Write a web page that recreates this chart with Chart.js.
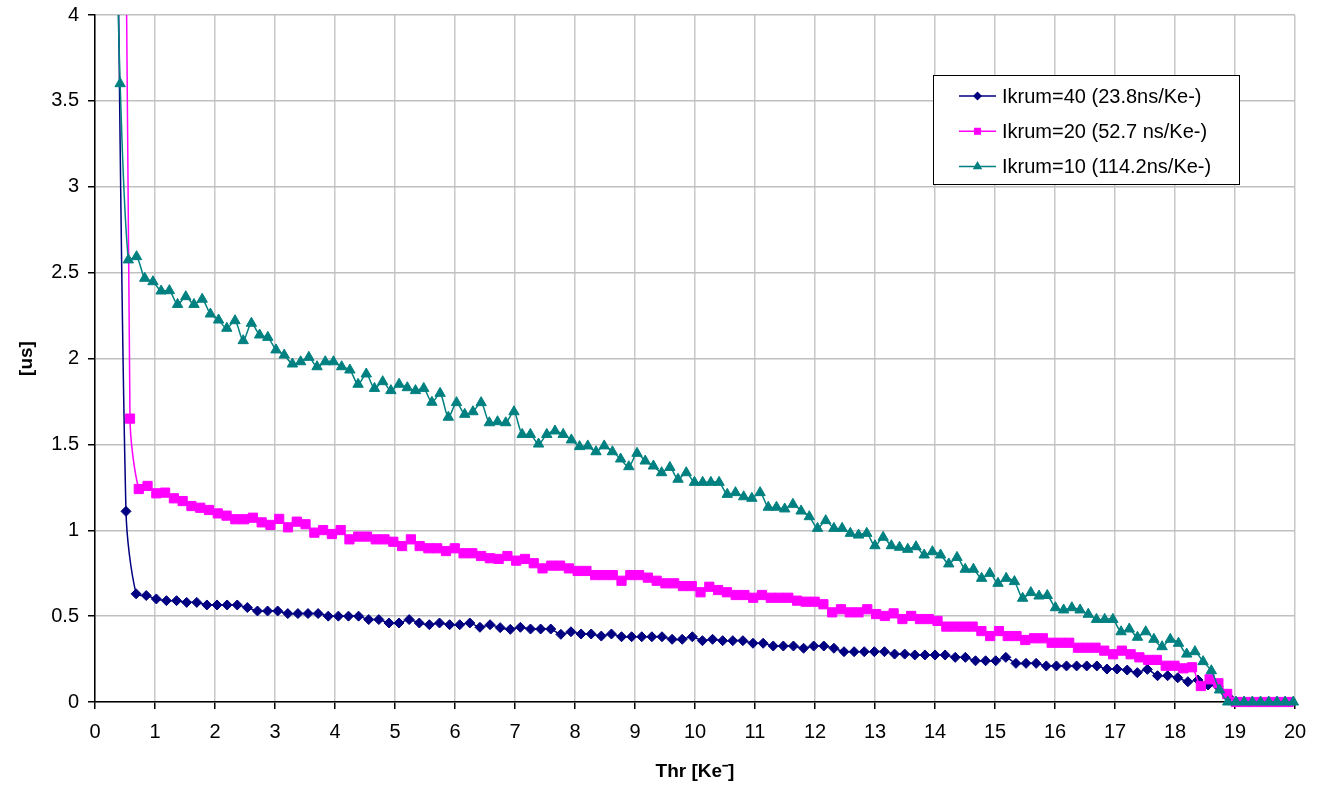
<!DOCTYPE html>
<html>
<head>
<meta charset="utf-8">
<title>Ikrum threshold scan</title>
<script src="https://cdn.jsdelivr.net/npm/chart.js@4.4.1/dist/chart.umd.min.js"></script>
<style>
  html, body { margin: 0; padding: 0; background: #fff; }
  #wrap { width: 1325px; height: 786px; }
</style>
</head>
<body>
<div id="wrap"><canvas id="scan" width="1325" height="786"></canvas></div>
<script>
'use strict';

// Threshold scan grid (Ke-) for each Ikrum setting: first step and step size
const thrStart40 = 0.348, thrStep40 = 0.16855;
const thrStart20 = 0.437, thrStep20 = 0.14629;
const thrStart10 = 0.2823, thrStep10 = 0.13674;

const seriesLabels = ['Ikrum=40 (23.8ns/Ke-)', 'Ikrum=20 (52.7 ns/Ke-)', 'Ikrum=10 (114.2ns/Ke-)'];

// Time over threshold [us] at each threshold step
const ikrum40 = [
  5.45, 1.11, 0.63, 0.62, 0.60, 0.59, 0.59, 0.58, 0.58, 0.565, 0.565, 0.565, 0.565, 0.55, 0.53, 0.53,
  0.53, 0.515, 0.515, 0.515, 0.515, 0.50, 0.50, 0.50, 0.50, 0.48, 0.48, 0.46, 0.46, 0.48, 0.46, 0.45,
  0.46, 0.45, 0.45, 0.46, 0.435, 0.45,
  0.433, 0.423, 0.435, 0.425, 0.425, 0.425, 0.394, 0.409, 0.396, 0.396, 0.384, 0.396, 0.380, 0.380,
  0.380, 0.380, 0.380, 0.365, 0.365, 0.380, 0.357, 0.365, 0.357, 0.357, 0.357, 0.342, 0.342, 0.326,
  0.326, 0.326, 0.313, 0.326, 0.326, 0.313, 0.293, 0.293, 0.293, 0.293, 0.293, 0.279,
  0.279, 0.274, 0.274, 0.274, 0.274, 0.260, 0.260, 0.240, 0.240, 0.240, 0.260, 0.225, 0.225, 0.225,
  0.210, 0.210, 0.210, 0.210, 0.210, 0.210, 0.192, 0.192, 0.186, 0.171, 0.190, 0.153, 0.153, 0.141,
  0.118, 0.128, 0.099, 0.089, 0.031,
  0, 0, 0, 0, 0, 0
];

const ikrum20 = [
  9.0, 1.65,
  1.24, 1.258, 1.215, 1.219, 1.186, 1.170, 1.141, 1.131, 1.118, 1.098, 1.085, 1.064, 1.064, 1.073,
  1.046, 1.031, 1.066, 1.017, 1.050, 1.035, 0.986, 1.001, 0.978, 1.001, 0.947, 0.963, 0.963, 0.947,
  0.947, 0.933, 0.908, 0.947, 0.908, 0.895, 0.895, 0.879, 0.895, 0.866, 0.866, 0.850, 0.837,
  0.833, 0.850, 0.823, 0.833, 0.808, 0.778, 0.794, 0.794, 0.778, 0.763, 0.763, 0.739, 0.739, 0.739,
  0.706, 0.739, 0.739, 0.724, 0.706, 0.691, 0.691, 0.675, 0.675, 0.639, 0.671, 0.652, 0.639, 0.623,
  0.623, 0.607, 0.623, 0.607, 0.607, 0.607, 0.590, 0.584, 0.584, 0.569, 0.522, 0.540, 0.522, 0.522,
  0.540, 0.512, 0.501, 0.516,
  0.483, 0.501, 0.483, 0.483, 0.472, 0.439, 0.439, 0.439, 0.439, 0.413, 0.384, 0.413, 0.384, 0.384,
  0.361, 0.371, 0.371, 0.345, 0.345, 0.345, 0.316, 0.316, 0.316, 0.299, 0.278, 0.299, 0.278, 0.260,
  0.245, 0.245, 0.211, 0.211, 0.196, 0.202, 0.093, 0.132, 0.109, 0.047,
  0, 0, 0, 0, 0, 0, 0
];

const ikrum10 = [
  5.4, 3.6,
  2.574, 2.593, 2.467, 2.447, 2.393, 2.395, 2.315, 2.360, 2.315, 2.345, 2.259, 2.224, 2.176, 2.220,
  2.104, 2.205, 2.137, 2.123, 2.050, 2.020, 1.968, 1.981, 2.007, 1.952, 1.981, 1.981, 1.952, 1.933,
  1.850, 1.910, 1.826, 1.865, 1.813, 1.850, 1.830, 1.813, 1.826, 1.745, 1.797, 1.658, 1.743, 1.675,
  1.690, 1.743, 1.626,
  1.632, 1.626, 1.690, 1.558, 1.558, 1.502, 1.558, 1.578, 1.558, 1.526, 1.487, 1.491, 1.457, 1.491,
  1.457, 1.415, 1.370, 1.448, 1.403, 1.374, 1.335, 1.366, 1.297, 1.335, 1.279, 1.279, 1.279, 1.279,
  1.209, 1.219, 1.195, 1.186, 1.219,
  1.134, 1.134, 1.124, 1.151, 1.112, 1.079, 1.011, 1.056, 1.011, 1.011, 0.982, 0.972, 0.982, 0.910,
  0.959, 0.910, 0.901,
  0.889, 0.904, 0.856, 0.875, 0.856, 0.804, 0.842, 0.773, 0.773, 0.720, 0.749, 0.691, 0.720, 0.701,
  0.604, 0.637, 0.617, 0.620, 0.549, 0.536, 0.549, 0.536, 0.511, 0.481, 0.481, 0.481, 0.409, 0.425,
  0.377, 0.409, 0.365, 0.322, 0.365, 0.342,
  0.279, 0.293, 0.235, 0.182, 0.070, 0,
  0, 0, 0, 0, 0, 0, 0, 0
];

const xMin = 0, xMax = 20, xStep = 1;
const yMin = 0, yMax = 4, yStep = 0.5;

function toPoints(values, start, step) {
  return values.map((v, i) => ({ x: start + i * step, y: v }));
}

const FONT = "'Liberation Sans', Arial, sans-serif";

function series(label, values, start, step, color, style, radius, order) {
  return {
    label: label,
    data: toPoints(values, start, step),
    borderColor: color,
    backgroundColor: color,
    borderWidth: 1.5,
    tension: 0.3,
    pointStyle: style,
    pointRadius: radius,
    pointBorderWidth: 1,
    pointBackgroundColor: color,
    pointBorderColor: color,
    order: order,
    clip: { left: 10, right: 10, top: 0, bottom: 10 }
  };
}

// Excel-style boxed legend with a line sample and marker per series
function drawMarker(ctx, style, x, y, r, color) {
  ctx.beginPath();
  if (style === 'rectRot') {
    ctx.moveTo(x - r, y); ctx.lineTo(x, y - r); ctx.lineTo(x + r, y); ctx.lineTo(x, y + r);
  } else if (style === 'rect') {
    const s = r * Math.SQRT1_2;
    ctx.rect(x - s, y - s, 2 * s, 2 * s);
  } else {
    ctx.moveTo(x, y - r);
    ctx.lineTo(x + r * 0.866, y + r * 0.5);
    ctx.lineTo(x - r * 0.866, y + r * 0.5);
  }
  ctx.closePath();
  ctx.fillStyle = color;
  ctx.fill();
}

const boxLegend = {
  id: 'boxLegend',
  afterDraw(chart) {
    const ctx = chart.ctx;
    const left = 933.5, top = 75.5, width = 306, height = 109;
    const legendRadius = [4.5, 5, 5.5];
    ctx.save();
    ctx.fillStyle = '#fff';
    ctx.fillRect(left, top, width, height);
    ctx.strokeStyle = '#000';
    ctx.lineWidth = 1;
    ctx.strokeRect(left, top, width, height);
    ctx.font = '20px ' + FONT;
    ctx.textBaseline = 'middle';
    ctx.textAlign = 'left';
    chart.data.datasets.forEach((ds, i) => {
      const y = top + 20.5 + i * 35.3;
      ctx.strokeStyle = ds.borderColor;
      ctx.lineWidth = 1.5;
      ctx.beginPath();
      ctx.moveTo(959, y);
      ctx.lineTo(996, y);
      ctx.stroke();
      drawMarker(ctx, ds.pointStyle, 977.5, y, legendRadius[i], ds.borderColor);
      ctx.fillStyle = '#000';
      ctx.fillText(ds.label, 1002, y + 1);
    });
    ctx.restore();
  }
};

new Chart(document.getElementById('scan'), {
  type: 'line',
  data: {
    datasets: [
      series(seriesLabels[0], ikrum40, thrStart40, thrStep40, '#000080', 'rectRot', 5, 3),
      series(seriesLabels[1], ikrum20, thrStart20, thrStep20, '#ff00ff', 'rect', 6.5, 2),
      series(seriesLabels[2], ikrum10, thrStart10, thrStep10, '#008080', 'triangle', 6, 1)
    ]
  },
  options: {
    responsive: false,
    animation: false,
    layout: { padding: { left: 0, right: 30, top: 15, bottom: 0 } },
    font: { family: FONT },
    plugins: {
      legend: { display: false },
      tooltip: { enabled: false }
    },
    scales: {
      x: {
        type: 'linear',
        min: xMin,
        max: xMax,
        afterFit(scale) { scale.height = 84; },
        ticks: {
          stepSize: xStep,
          autoSkip: false,
          maxRotation: 0,
          padding: 11,
          color: '#000',
          font: { family: FONT, size: 20 },
          callback: v => String(v)
        },
        grid: { color: '#c8c8c8', lineWidth: 1.5, tickColor: '#000', tickLength: 7, tickWidth: 1.5 },
        border: { color: '#000', width: 1.5 },
        title: {
          display: true,
          text: 'Thr [Ke\u207B]',
          color: '#000',
          font: { family: FONT, size: 19, weight: 'bold' },
          padding: { top: 0, bottom: 3 }
        }
      },
      y: {
        min: yMin,
        max: yMax,
        // fixed axis width; the top label may sit in the layout padding
        afterFit(scale) {
          scale.width = 95;
          scale.paddingTop = 0;
          scale.paddingBottom = 0;
        },
        ticks: {
          stepSize: yStep,
          padding: 9,
          color: '#000',
          font: { family: FONT, size: 20 },
          callback: v => String(v)
        },
        grid: { color: '#c0c0c0', lineWidth: 1.5, tickColor: '#000', tickLength: 7, tickWidth: 1.5 },
        border: { color: '#000', width: 1.5 },
        title: {
          display: true,
          text: '[us]',
          color: '#000',
          font: { family: FONT, size: 19, weight: 'bold' },
          padding: { top: 15, bottom: 0 }
        }
      }
    }
  },
  plugins: [boxLegend]
});
</script>
</body>
</html>
